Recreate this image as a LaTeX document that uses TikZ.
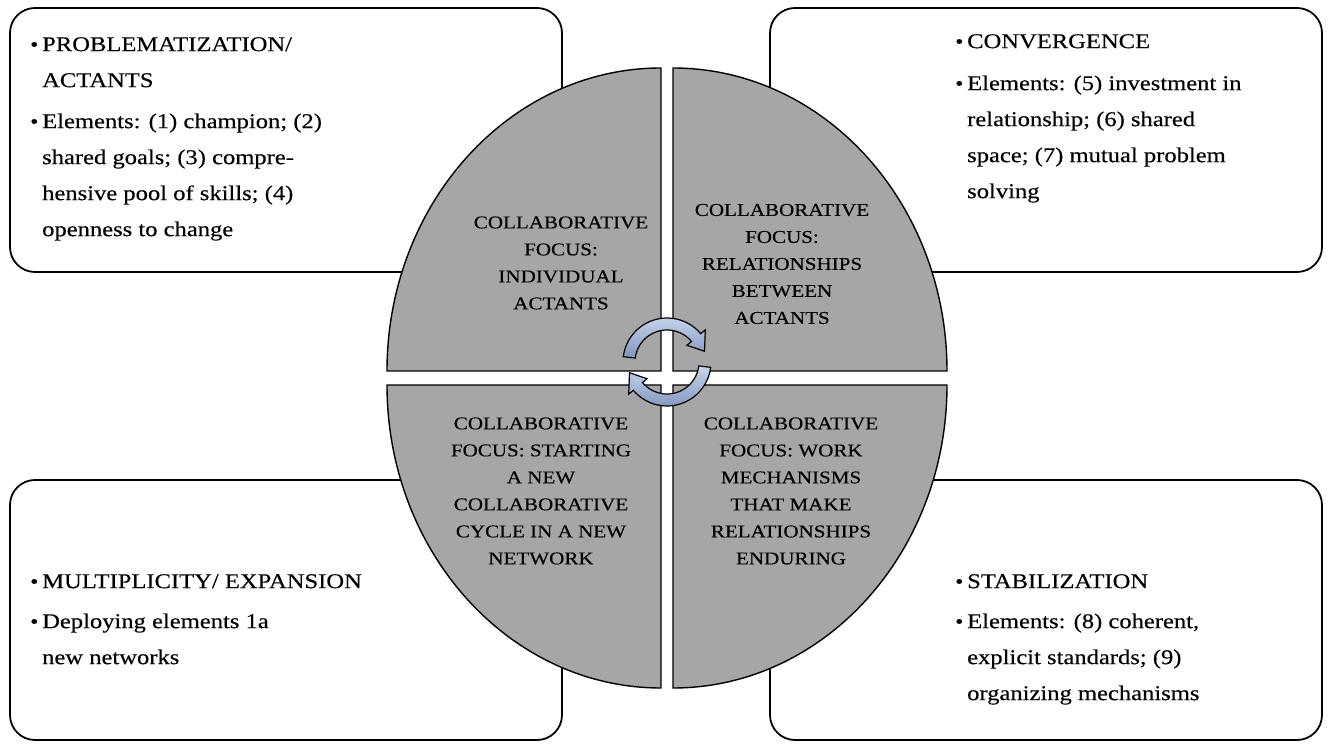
\documentclass[tikz,border=0pt]{standalone}
\usepackage{fontspec}
\setmainfont{Liberation Serif}[FakeStretch=1.17,FakeBold=0.3]
\usetikzlibrary{positioning}
\definecolor{quadgray}{HTML}{A6A6A6}
\definecolor{cyctop}{HTML}{C9D6EC}
\definecolor{cycbot}{HTML}{8096BE}
\newcommand{\itm}{\makebox[12pt][l]{\raisebox{0pt}{\fontsize{20}{20}\selectfont\textbullet}}}
\newcommand{\ind}{\hspace*{12pt}}
\begin{document}
\begin{tikzpicture}[x=1pt,y=1pt,
    panel/.style={draw, line width=1.8pt, rounded corners=25pt, inner sep=0pt},
    item/.style={anchor=north west, align=left, inner sep=0pt, font=\fontsize{21}{36}\selectfont},
    quad/.style={draw, fill=quadgray, line width=1.4pt},
    focus/.style={align=center, inner sep=0pt, font=\fontsize{18}{27}\selectfont},
    cyc/.style={draw, line width=1.2pt, top color=cyctop, bottom color=cycbot}]
    \useasboundingbox (0,0) rectangle (1331,745);
    % four phase boxes
    \node[panel, minimum width=552, minimum height=264] (prob) at (286,605) {};
    \node[panel, minimum width=552, minimum height=264] (conv) at (1046,605) {};
    \node[panel, minimum width=552, minimum height=260] (mult) at (286,135) {};
    \node[panel, minimum width=552, minimum height=260] (stab) at (1046,135) {};
    \node[item] (probTxt) at (30,708) {\itm PROBLEMATIZATION/\\\ind ACTANTS\\[5pt]\itm Elements: (1) champion; (2)\\\ind shared goals; (3) compre-\\\ind hensive pool of skills; (4)\\\ind openness to change};
    \node[item] (convTxt) at (955,711) {\itm CONVERGENCE\\[6pt]\itm Elements: (5) investment in\\\ind relationship; (6) shared\\\ind space; (7) mutual problem\\\ind solving};
    \node[item] (multTxt) at (30,171) {\itm MULTIPLICITY/ EXPANSION\\[4pt]\itm Deploying elements 1a\\\ind new networks};
    \node[item] (stabTxt) at (955,171) {\itm STABILIZATION\\[4pt]\itm Elements: (8) coherent,\\\ind explicit standards; (9)\\\ind organizing mechanisms};
    % exploded ellipse
    \draw[quad] (661,374) -- ++(0,303) arc[start angle=90, end angle=180, x radius=274, y radius=303] -- cycle;
    \draw[quad] (673,374) -- ++(0,303) arc[start angle=90, end angle=0, x radius=274, y radius=303] -- cycle;
    \draw[quad] (661,360) -- ++(0,-303) arc[start angle=270, end angle=180, x radius=274, y radius=303] -- cycle;
    \draw[quad] (673,360) -- ++(0,-303) arc[start angle=270, end angle=360, x radius=274, y radius=303] -- cycle;
    \node[focus] (indiv) at (561,482) {COLLABORATIVE\\FOCUS:\\INDIVIDUAL\\ACTANTS};
    \node[focus] (relat) at (782,481) {COLLABORATIVE\\FOCUS:\\RELATIONSHIPS\\BETWEEN\\ACTANTS};
    \node[focus] (start) at (541,254) {COLLABORATIVE\\FOCUS: STARTING\\A NEW\\COLLABORATIVE\\CYCLE IN A NEW\\NETWORK};
    \node[focus] (work) at (791,254) {COLLABORATIVE\\FOCUS: WORK\\MECHANISMS\\THAT MAKE\\RELATIONSHIPS\\ENDURING};
    % cycle arrows
    \foreach \o in {0,180}
      \draw[cyc, shift={(667,383)}] (\o+173:44) arc[start angle=\o+173, end angle=\o+40, radius=44]
        -- (\o+40:50) -- (\o+16:39) -- (\o+40:26) -- (\o+40:32)
        arc[start angle=\o+40, end angle=\o+173, radius=32] -- cycle;
\end{tikzpicture}
\end{document}
